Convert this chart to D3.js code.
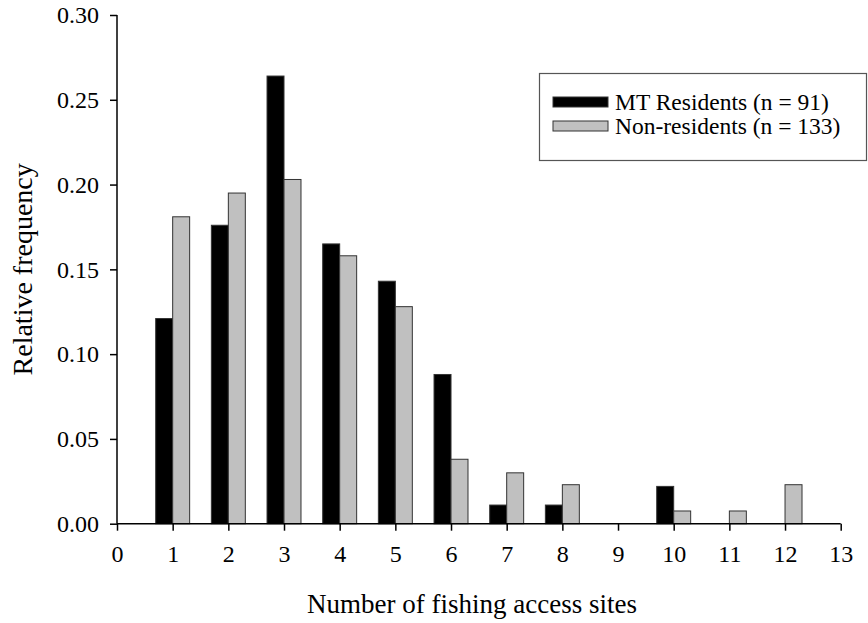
<!DOCTYPE html>
<html>
<head>
<meta charset="utf-8">
<script src="https://cdn.jsdelivr.net/npm/d3@7"></script>
<style>
    body { margin: 0; background: #fff; }
    text { font-family: 'Liberation Serif', 'Times New Roman', serif; fill: #000; }
</style>
</head>
<body>
<div id="chart"></div>
<script>
var sites = [1, 2, 3, 4, 5, 6, 7, 8, 9, 10, 11, 12];
var residents = [0.121, 0.176, 0.264, 0.165, 0.143, 0.088, 0.011, 0.011, 0, 0.022, 0, 0];
var nonResidents = [0.181, 0.195, 0.203, 0.158, 0.128, 0.038, 0.030, 0.023, 0, 0.0075, 0.0075, 0.023];
var seriesNames = ["MT Residents (n = 91)", "Non-residents (n = 133)"];
var xTicks = [0, 1, 2, 3, 4, 5, 6, 7, 8, 9, 10, 11, 12, 13];
var yTicks = [0, 0.05, 0.10, 0.15, 0.20, 0.25, 0.30];

function BarChart() {
    var w = 868;
    var h = 623;
    var barW = 0.305;

    var x = d3.scaleLinear()
                .domain([0, 13])
                .range([117, 840.7]);

    var y = d3.scaleLinear()
                .domain([0, 0.30])
                .range([523.7, 15]);

    var colors = ["#000000", "#c0c0c0"];

    var svg = d3.select("#chart")
                .append("svg")
                .attr("width", w)
                .attr("height", h);

    // bars: residents left of the tick, non-residents right of it
    [residents, nonResidents].forEach(function(vals, s) {
        var data = sites.map(function(site, i){ return {site: site, v: vals[i]}; })
                        .filter(function(d){ return d.v > 0; });
        svg.append("g")
            .selectAll("rect")
            .data(data)
            .enter()
            .append("rect")
            .attr("x", function(d){ return s === 0 ? x(d.site - barW) : x(d.site); })
            .attr("y", function(d){ return y(d.v); })
            .attr("width", x(barW) - x(0))
            .attr("height", function(d){ return y(0) - y(d.v); })
            .attr("fill", colors[s])
            .attr("stroke", "#333")
            .attr("stroke-width", 1);
    });

    // axes
    var xAxis = d3.axisBottom(x)
                    .tickValues(xTicks)
                    .tickSize(7)
                    .tickPadding(14)
                    .tickFormat(d3.format("d"));

    var yAxis = d3.axisLeft(y)
                    .tickValues(yTicks)
                    .tickSize(7)
                    .tickPadding(11)
                    .tickFormat(d3.format(".2f"));

    var gx = svg.append("g")
        .attr("transform", "translate(0," + y(0) + ")")
        .call(xAxis);

    var gy = svg.append("g")
        .attr("transform", "translate(" + x(0) + ",0)")
        .call(yAxis);

    [gx, gy].forEach(function(g) {
        g.attr("font-family", null).attr("font-size", null);
        g.select(".domain").attr("stroke", "#000").attr("stroke-width", 1.5);
        g.selectAll(".tick line").attr("stroke", "#000").attr("stroke-width", 1.5);
        g.selectAll(".tick text")
            .style("font-size", "24px")
            .attr("fill", "#000");
    });
    gx.select(".domain").attr("d", "M" + x(0) + ",0H" + x(13));
    gy.select(".domain").attr("d", "M0," + y(0) + "V" + y(0.30));

    // axis titles
    svg.append("text")
        .attr("x", 472)
        .attr("y", 613)
        .attr("text-anchor", "middle")
        .style("font-size", "27px")
        .text("Number of fishing access sites");

    svg.append("text")
        .attr("transform", "translate(32," + (y(0) + y(0.30)) / 2 + ") rotate(-90)")
        .attr("text-anchor", "middle")
        .style("font-size", "28px")
        .text("Relative frequency");

    // legend
    var legend = svg.append("g");
    legend.append("rect")
        .attr("x", 539.5)
        .attr("y", 73.5)
        .attr("width", 327)
        .attr("height", 87)
        .attr("fill", "#fff")
        .attr("stroke", "#555")
        .attr("stroke-width", 1.2);

    var rows = legend.selectAll("g.row")
                    .data(seriesNames)
                    .enter()
                    .append("g")
                    .attr("class", "row")
                    .attr("transform", function(d, i){
                        return "translate(553," + (102 + i * 24) + ")";
                    });

    rows.append("rect")
        .attr("x", 0)
        .attr("y", -5)
        .attr("width", 55)
        .attr("height", 10)
        .attr("fill", function(d, i){ return colors[i]; })
        .attr("stroke", "#333")
        .attr("stroke-width", 1);

    rows.append("text")
        .attr("x", 62)
        .attr("y", 8)
        .style("font-size", "23.5px")
        .text(function(d){ return d; });
}

function init(){
    BarChart();
}
window.onload = init;
</script>
</body>
</html>
